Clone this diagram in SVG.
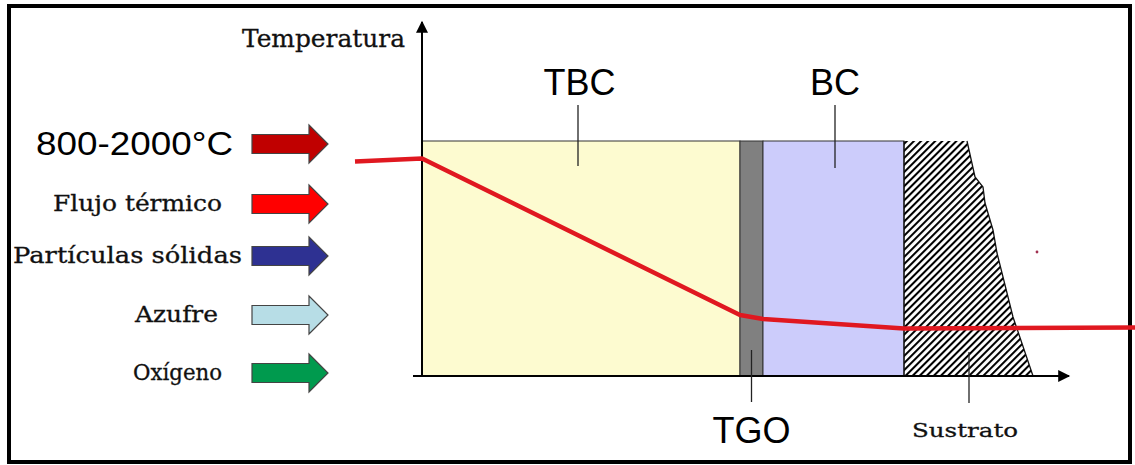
<svg xmlns="http://www.w3.org/2000/svg" width="1135" height="465" viewBox="0 0 1135 465">
  <style>
    .sans { font-family: "Liberation Sans", Arial, sans-serif; fill: #000; }
    .serif { font-family: "DejaVu Serif", "Liberation Serif", serif; fill: #111; stroke: #111; stroke-width: 0.3; }
    .tick { stroke: #222; stroke-width: 1.3; fill: none; }
    .arrow { stroke: #444; stroke-width: 1.2; }
    .axis { stroke: #000; stroke-width: 2; fill: none; }
  </style>
  <defs>
    <pattern id="hatch" width="5" height="5" patternUnits="userSpaceOnUse" patternTransform="rotate(45)">
      <line x1="1" y1="0" x2="1" y2="5" stroke="#000" stroke-width="2.1"/>
    </pattern>
    <marker id="ah" viewBox="0 0 10 10" refX="9" refY="5" markerWidth="6.5" markerHeight="6" orient="auto" markerUnits="strokeWidth">
      <path d="M0,0 L10,5 L0,10 Z" fill="#000"/>
    </marker>
    <path id="bigArrow" d="M0,-9.5 L57,-9.5 L57,-19 L76,0 L57,19 L57,9.5 L0,9.5 Z"/>
  </defs>

  <rect x="0" y="0" width="1135" height="465" fill="#fff"/>
  <rect x="9" y="6" width="1121" height="456" fill="none" stroke="#000" stroke-width="4"/>

  <!-- Layers -->
  <g id="tbc">
    <rect x="422" y="141" width="318" height="235" fill="#fdfbd0" stroke="#333" stroke-width="1"/>
  </g>
  <g id="tgo">
    <rect x="740" y="141" width="23" height="235" fill="#808080" stroke="#333" stroke-width="1"/>
  </g>
  <g id="bc">
    <rect x="763" y="141" width="141" height="235" fill="#ccccfb" stroke="#333" stroke-width="1"/>
  </g>
  <g id="sustrato">
    <path d="M904,141 L967,141 L975,177 L983,187 L985,203 L993,230 L997,253 L1013,317 L1033,376 L904,376 Z" fill="url(#hatch)"/>
    <path d="M904,141 L904,376 M967,141 L975,177 L983,187 L985,203 L993,230 L997,253 L1013,317 L1033,376" fill="none" stroke="#111" stroke-width="1.3"/>
  </g>

  <!-- Connectors: axes, ticks, temperature profile -->
  <g id="connectors">
    <line class="axis" x1="422" y1="376" x2="422" y2="22" marker-end="url(#ah)"/>
    <line class="axis" x1="413" y1="376" x2="1069" y2="376" marker-end="url(#ah)"/>
    <line class="tick" x1="578" y1="105" x2="578" y2="166"/>
    <line class="tick" x1="835" y1="105" x2="835" y2="168"/>
    <line class="tick" x1="751.5" y1="350" x2="751.5" y2="402"/>
    <line class="tick" x1="969" y1="352" x2="969" y2="403"/>
    <polyline points="355,161.5 422,158.5 740,315 763,319 904,328.5 1135,327.5" fill="none" stroke="#e01820" stroke-width="4.5" stroke-linejoin="round"/>
    <circle cx="1037" cy="252" r="1.4" fill="#a03050"/>
  </g>

  <!-- Legend arrows -->
  <g id="arrow-temp"><use href="#bigArrow" x="252" y="144" fill="#c00000" class="arrow"/></g>
  <g id="arrow-flujo"><use href="#bigArrow" x="252" y="204" fill="#ff0000" class="arrow"/></g>
  <g id="arrow-particulas"><use href="#bigArrow" x="252" y="256" fill="#2e3192" class="arrow"/></g>
  <g id="arrow-azufre"><use href="#bigArrow" x="252" y="315" fill="#b7dde6" class="arrow"/></g>
  <g id="arrow-oxigeno"><use href="#bigArrow" x="252" y="373" fill="#009a4e" class="arrow"/></g>

  <!-- Labels -->
  <g id="labels">
    <text class="serif" x="242" y="47" font-size="24" textLength="163" lengthAdjust="spacingAndGlyphs">Temperatura</text>
    <text class="sans" x="579.5" y="95" font-size="36" text-anchor="middle">TBC</text>
    <text class="sans" x="835" y="95" font-size="36" text-anchor="middle">BC</text>
    <text class="sans" x="751.5" y="443" font-size="36" text-anchor="middle">TGO</text>
    <text class="serif" x="912" y="437" font-size="19" textLength="106" lengthAdjust="spacingAndGlyphs">Sustrato</text>
    <text class="sans" x="36" y="155" font-size="34" textLength="197" lengthAdjust="spacingAndGlyphs">800-2000°C</text>
    <text class="serif" x="53" y="211" font-size="22" textLength="169" lengthAdjust="spacingAndGlyphs">Flujo térmico</text>
    <text class="serif" x="13" y="263" font-size="22" textLength="229" lengthAdjust="spacingAndGlyphs">Partículas sólidas</text>
    <text class="serif" x="135" y="322" font-size="22" textLength="83" lengthAdjust="spacingAndGlyphs">Azufre</text>
    <text class="serif" x="133" y="380" font-size="22" textLength="89" lengthAdjust="spacingAndGlyphs">Oxígeno</text>
  </g>
</svg>
